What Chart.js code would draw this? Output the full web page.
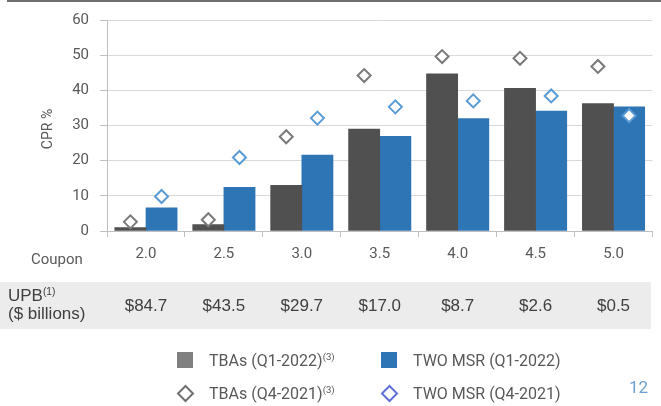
<!DOCTYPE html>
<html><head><meta charset="utf-8">
<script src="https://cdn.jsdelivr.net/npm/chart.js@4"></script>
<style>
html,body{margin:0;padding:0;background:#fff;width:661px;height:406px;overflow:hidden;}
#wrap{position:relative;width:661px;height:406px;font-family:Roboto,"Liberation Sans",sans-serif;color:#595959;}
canvas{position:absolute;left:0;top:0;}
.abs{position:absolute;white-space:nowrap;}
#rule{left:7px;top:0;width:654px;height:2px;background:#707070;}
#band{left:0;top:282px;width:651px;height:47px;background:#ececec;}
.upb{font-family:"Liberation Sans",Arial,sans-serif;font-size:17px;color:#404040;}
.upbv{top:296px;width:100px;text-align:center;line-height:20px;}
#upbl{left:8px;top:288px;line-height:16px;}
sup{font-size:0.6em;vertical-align:0;position:relative;top:-0.6em;}
#coupon{left:31px;top:250px;font-size:15px;}
#cpr{left:47px;top:129px;font-size:14px;transform:translate(-50%,-50%) rotate(-90deg);}
.leg{font-size:16px;line-height:20px;}
.sw{width:16px;height:16px;}
#pg{left:629px;top:377px;font-size:17px;color:#6a9fd0;}
</style></head>
<body><div id="wrap">
<div id="band" class="abs"></div>
<div id="rule" class="abs"></div>
<canvas id="c" width="661" height="406"></canvas>
<div id="coupon" class="abs">Coupon</div>
<div id="cpr" class="abs">CPR %</div>
<div id="upbl" class="abs upb">UPB<sup>(1)</sup><br>($ billions)</div>
<div class="abs sw" style="left:177px;top:352px;background:#808080;"></div>
<div class="abs leg" style="left:209px;top:351px;">TBAs (Q1-2022)<sup>(3)</sup></div>
<div class="abs sw" style="left:381px;top:352px;background:#2e75b6;"></div>
<div class="abs leg" style="left:413px;top:351px;">TWO MSR (Q1-2022)</div>
<svg class="abs" style="left:176px;top:384px;" width="19" height="19"><polygon points="9.5,2 17,9.5 9.5,17 2,9.5" fill="#fff" stroke="#707070" stroke-width="2"/></svg>
<div class="abs leg" style="left:209px;top:384px;">TBAs (Q4-2021)<sup>(3)</sup></div>
<svg class="abs" style="left:380px;top:384px;" width="19" height="19"><polygon points="9.5,2 17,9.5 9.5,17 2,9.5" fill="#fff" stroke="#5e6fd8" stroke-width="2"/></svg>
<div class="abs leg" style="left:413px;top:384px;">TWO MSR (Q4-2021)</div>
<div id="pg" class="abs">12</div>
</div>
<script>
const coupons = ['2.0','2.5','3.0','3.5','4.0','4.5','5.0'];
const tbaQ1 = [1.0, 1.8, 13.0, 29.0, 44.7, 40.6, 36.2];
const msrQ1 = [6.6, 12.4, 21.6, 26.9, 32.0, 34.1, 35.3];
const tbaQ4 = [2.6, 3.2, 26.8, 44.2, 49.6, 49.1, 46.8];
const msrQ4 = [9.8, 20.9, 32.1, 35.3, 37.0, 38.4, 32.8];
const upb = ['$84.7','$43.5','$29.7','$17.0','$8.7','$2.6','$0.5'];
const yMin = 0, yMax = 60, yStep = 10;

const catPct = 0.8;
const shift = catPct / 4;
const pts = (arr, dir) => arr.map((v, i) => ({x: i + dir * shift, y: v}));
const tickFont = {family: 'Roboto', size: 15};

const chart = new Chart(document.getElementById('c'), {
  type: 'bar',
  data: {
    labels: coupons,
    datasets: [
      {type:'line', label:'TBAs (Q4-2021)', data: pts(tbaQ4, -1), xAxisID:'x2', showLine:false,
       pointStyle:'rectRot', pointRadius:6.5, pointBorderWidth:2, pointBorderColor:'#7a7a7a', pointBackgroundColor:'#ffffff', order:0},
      {type:'line', label:'TWO MSR (Q4-2021)', data: pts(msrQ4, 1), xAxisID:'x2', showLine:false,
       pointStyle:'rectRot', pointRadius:6.5, pointBorderWidth:2, pointBorderColor:'#5b9bd5', pointBackgroundColor:'#ffffff', order:0},
      {label:'TBAs (Q1-2022)', data: tbaQ1, backgroundColor:'#505050', categoryPercentage:catPct, barPercentage:1, order:1},
      {label:'TWO MSR (Q1-2022)', data: msrQ1, backgroundColor:'#2e75b6', categoryPercentage:catPct, barPercentage:1, order:1}
    ]
  },
  options: {
    responsive:false, animation:false, devicePixelRatio:1,
    layout:{padding:{left:0, right:4.5, top:14, bottom:145}},
    plugins:{legend:{display:false}, tooltip:{enabled:false}},
    scales:{
      x:{type:'category', offset:true,
         grid:{display:true, offset:true, drawOnChartArea:false, drawTicks:true, tickLength:6, tickColor:'#bfbfbf'},
         border:{display:true, color:'#bfbfbf', width:1},
         ticks:{color:'#595959', font:tickFont, padding:8, maxRotation:0},
         afterFit(s){ s.height = 30; }},
      x2:{type:'linear', display:false, offset:false, min:-0.5, max:coupons.length - 0.5},
      y:{min:yMin, max:yMax,
         ticks:{stepSize:yStep, color:'#595959', font:tickFont, padding:11},
         grid:{color:'#d9d9d9', tickLength:7, tickColor:'#bfbfbf'},
         border:{color:'#bfbfbf'},
         afterFit(s){ s.width = 107; }}
    }
  }
});

// bar thickness derived from the category scale: two bars share catPct of each category
const xs = chart.scales.x;
const barW = xs.width / coupons.length * catPct / 2;
chart.data.datasets[2].barThickness = barW;
chart.data.datasets[3].barThickness = barW;
chart.update();

const wrap = document.getElementById('wrap');
upb.forEach((v, i) => {
  const d = document.createElement('div');
  d.className = 'abs upb upbv';
  d.textContent = v;
  d.style.left = (xs.getPixelForValue(i) - 50) + 'px';
  wrap.appendChild(d);
});
</script>
</body></html>
